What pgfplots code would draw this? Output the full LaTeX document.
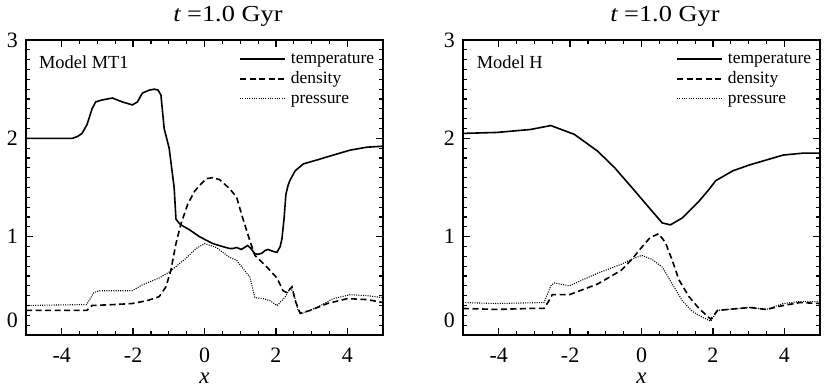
\documentclass[border=0pt]{standalone}
\usepackage{fontspec}
\setmainfont{Liberation Serif}
\usepackage{graphicx}
\usepackage{pgfplots}
\pgfplotsset{compat=1.18}
\pgfplotsset{
  panel/.style={
    scale only axis=true,
    width=357bp, height=295bp,
    xmin=-5, xmax=5, ymin=0, ymax=3,
    xtick={-4,-2,0,2,4},
    ytick={0,1,2,3},
    yticklabels={\raisebox{30bp}{0},1,2,3},
    minor x tick num=3,
    minor y tick num=9,
    tick pos=both,
    major tick length=7bp,
    minor tick length=4bp,
    every tick/.append style={black, line width=1.3bp},
    every minor tick/.append style={black, line width=1.1bp},
    axis line style={line width=1.3bp},
    /pgf/number format/assume math mode=true,
    tick label style={font=\fontsize{22}{26}\selectfont},
    xticklabel style={anchor=base, yshift=-27bp, inner sep=0pt},
    yticklabel style={anchor=east, xshift=-8bp, inner sep=0pt},
    xlabel={\itshape x},
    xlabel style={at={(axis description cs:0.5,0)}, anchor=base, yshift=-48bp, inner sep=0pt, font=\fontsize{23}{26}\selectfont},
    title style={at={(axis description cs:0.412,1)}, anchor=base west, yshift=13bp, inner sep=0pt, font=\fontsize{23}{28}\selectfont},
    legend cell align=left,
    legend style={at={(axis description cs:0.597,0.966)}, anchor=north west, draw=none, fill=none, inner sep=0pt,
      font=\fontsize{17.5}{20}\selectfont, row sep=3bp,
      nodes={text height=12bp, text depth=3bp, inner sep=1bp}},
    legend image code/.code={\draw[##1] (0bp,0bp) -- (45bp,0bp); \path (49bp,0bp);},
  },
  tem/.style={black, line width=1.6bp},
  den/.style={black, line width=1.6bp, dash pattern=on 6bp off 3.5bp},
  pre/.style={black, line width=1.1bp, dash pattern=on 1bp off 1.3bp},
}
\newcommand{\ttl}{\scalebox{1.15}[1]{{\itshape t} =1.0 Gyr}}
\begin{document}
\begin{tikzpicture}
\path[use as bounding box] (0,0) rectangle (830bp,391bp);
\begin{axis}[panel, at={(26bp,56bp)}, anchor=south west,
  title={\ttl}]
\addplot[tem] coordinates {(-5,2.0) (-3.7,2.0) (-3.55,2.02) (-3.43,2.05) (-3.29,2.14) (-3.15,2.30) (-3.05,2.37) (-2.87,2.39) (-2.58,2.41) (-2.3,2.37) (-2.02,2.34) (-1.88,2.37) (-1.74,2.46) (-1.55,2.49) (-1.4,2.50) (-1.30,2.49) (-1.22,2.44) (-1.13,2.10) (-0.99,1.90) (-0.85,1.50) (-0.8,1.18) (-0.72,1.14) (-0.66,1.12) (-0.42,1.07) (-0.14,1.00) (0.23,0.93) (0.5,0.90) (0.70,0.88) (0.8,0.88) (0.9,0.89) (1.03,0.87) (1.12,0.89) (1.21,0.91) (1.3,0.88) (1.4,0.83) (1.48,0.82) (1.6,0.83) (1.7,0.86) (1.78,0.87) (1.85,0.86) (1.92,0.85) (2.03,0.84) (2.12,0.90) (2.17,0.98) (2.23,1.19) (2.28,1.43) (2.34,1.52) (2.39,1.57) (2.54,1.67) (2.77,1.74) (3.15,1.78) (3.61,1.83) (4.08,1.88) (4.55,1.91) (5,1.92)};
\addlegendentry{temperature}
\addplot[den] coordinates {(-5,0.25) (-3.3,0.25) (-3.15,0.30) (-2.5,0.31) (-2.03,0.32) (-1.6,0.35) (-1.27,0.39) (-1.08,0.49) (-0.94,0.66) (-0.8,0.93) (-0.66,1.13) (-0.47,1.33) (-0.28,1.46) (-0.14,1.52) (0.05,1.59) (0.23,1.60) (0.42,1.58) (0.7,1.49) (0.9,1.40) (1.07,1.19) (1.27,0.96) (1.41,0.81) (1.75,0.69) (2.03,0.58) (2.2,0.45) (2.31,0.43) (2.45,0.49) (2.54,0.35) (2.68,0.22) (2.96,0.25) (3.44,0.32) (4.0,0.37) (4.56,0.36) (5,0.33)};
\addlegendentry{density}
\addplot[pre] coordinates {(-5,0.30) (-3.3,0.31) (-3.1,0.43) (-2.96,0.45) (-2.03,0.45) (-1.74,0.51) (-1.27,0.58) (-0.99,0.64) (-0.52,0.78) (-0.23,0.88) (0.0,0.93) (0.33,0.89) (0.7,0.79) (0.9,0.76) (1.07,0.68) (1.27,0.59) (1.41,0.38) (1.64,0.37) (1.83,0.35) (2.03,0.30) (2.25,0.38) (2.39,0.47) (2.48,0.45) (2.62,0.25) (2.73,0.22) (3.15,0.28) (3.61,0.37) (4.08,0.41) (4.55,0.40) (5,0.38)};
\addlegendentry{pressure}
\node[anchor=west, inner sep=0pt, font=\fontsize{18.5}{21}\selectfont] at (rel axis cs:0.036,0.925) {Model MT1};
\end{axis}
\begin{axis}[panel, at={(463bp,56bp)}, anchor=south west,
  title={\ttl}]
\addplot[tem] coordinates {(-5,2.05) (-4.05,2.06) (-3.11,2.09) (-2.54,2.13) (-1.88,2.04) (-1.23,1.87) (-0.75,1.70) (-0.27,1.50) (0.2,1.30) (0.58,1.14) (0.81,1.12) (1.14,1.19) (1.61,1.36) (1.89,1.48) (2.08,1.57) (2.56,1.67) (3.03,1.73) (3.5,1.78) (3.97,1.83) (4.54,1.85) (5,1.85)};
\addlegendentry{temperature}
\addplot[den] coordinates {(-5,0.27) (-4.05,0.26) (-3.11,0.27) (-2.73,0.27) (-2.59,0.35) (-2.5,0.41) (-2.02,0.41) (-1.22,0.52) (-0.56,0.66) (-0.27,0.77) (0.0,0.89) (0.24,0.99) (0.48,1.03) (0.67,0.94) (0.86,0.76) (1.05,0.56) (1.33,0.39) (1.61,0.27) (1.94,0.16) (2.13,0.25) (3.03,0.28) (3.5,0.26) (3.97,0.30) (4.44,0.33) (5,0.32)};
\addlegendentry{density}
\addplot[pre] coordinates {(-5,0.33) (-4.05,0.32) (-2.73,0.33) (-2.54,0.50) (-2.45,0.53) (-2.02,0.50) (-1.22,0.63) (-0.56,0.72) (-0.27,0.77) (0.0,0.81) (0.29,0.77) (0.58,0.69) (0.86,0.52) (1.14,0.35) (1.42,0.24) (1.71,0.18) (1.94,0.14) (2.13,0.25) (3.03,0.28) (3.5,0.26) (3.97,0.32) (4.44,0.34) (5,0.34)};
\addlegendentry{pressure}
\node[anchor=west, inner sep=0pt, font=\fontsize{18.5}{21}\selectfont] at (rel axis cs:0.038,0.925) {Model H};
\end{axis}
\end{tikzpicture}
\end{document}
